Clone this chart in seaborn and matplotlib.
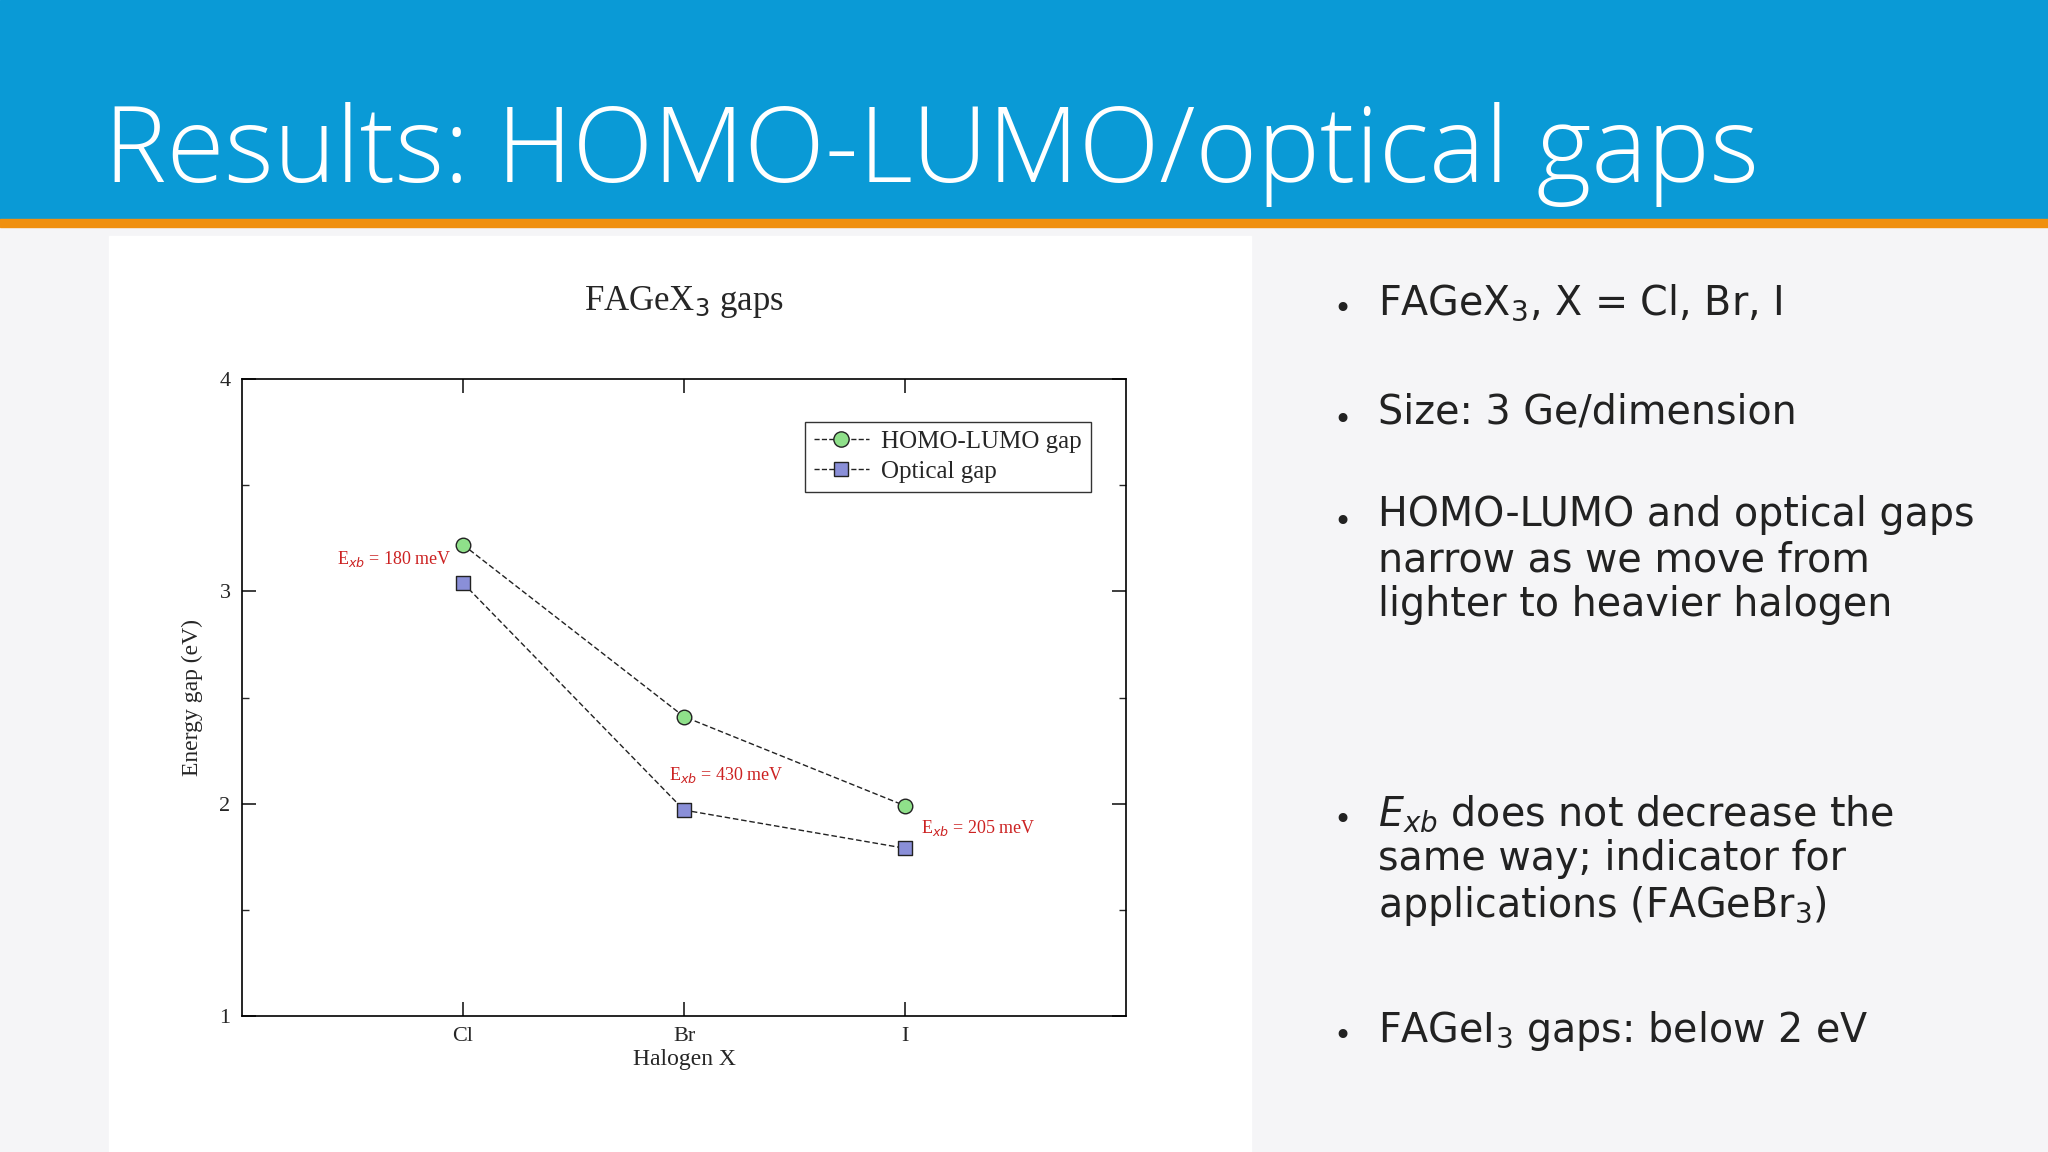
import matplotlib
matplotlib.use("Agg")
import matplotlib.pyplot as plt
import seaborn as sns
import pandas as pd
from matplotlib.patches import Rectangle
from matplotlib.lines import Line2D

halogens = ["Cl", "Br", "I"]
xpos = [1, 2, 3]
homo_lumo = [3.22, 2.41, 1.99]
optical = [3.04, 1.97, 1.79]
exb_labels = ["E$_{xb}$ = 180 meV", "E$_{xb}$ = 430 meV", "E$_{xb}$ = 205 meV"]

sns.set_theme(style="ticks")
plt.rcParams['font.family'] = ['DejaVu Sans']
plt.rcParams['mathtext.fontset'] = 'dejavusans'

fig = plt.figure(figsize=(20.48, 11.52), dpi=100)
fig.patch.set_facecolor("#f5f5f7")
fig.add_artist(Rectangle((0, 0.81), 1, 0.19, transform=fig.transFigure, color="#0a9ad6", zorder=0))
fig.add_artist(Rectangle((0, 0.803), 1, 0.007, transform=fig.transFigure, color="#f0900f", zorder=1))
fig.add_artist(Rectangle((0.053, 0.0), 0.558, 0.795, transform=fig.transFigure, color="white", zorder=0))
fig.text(0.051, 0.866, "Results: HOMO-LUMO/optical gaps", color="white", fontsize=76,
         family="Open Sans", weight="light", va="center")

ax = fig.add_axes([0.118, 0.118, 0.432, 0.553])
df = pd.DataFrame({"x": xpos * 2, "y": homo_lumo + optical,
                   "s": ["HOMO-LUMO gap"] * 3 + ["Optical gap"] * 3})
sns.lineplot(data=df, x="x", y="y", hue="s", style="s",
             palette=["#222222", "#222222"], dashes=[(4, 2), (4, 2)],
             markers=False, linewidth=1.0, ax=ax, legend=False)
ax.scatter(xpos, homo_lumo, s=110, marker="o", facecolor="#8fe08a", edgecolor="#222", zorder=3)
ax.scatter(xpos, optical, s=90, marker="s", facecolor="#8a8fd8", edgecolor="#222", zorder=3)
h1 = Line2D([], [], ls="--", color="#222", lw=1, marker="o", markersize=11,
            markerfacecolor="#8fe08a", markeredgecolor="#222")
h2 = Line2D([], [], ls="--", color="#222", lw=1, marker="s", markersize=10,
            markerfacecolor="#8a8fd8", markeredgecolor="#222")
leg = ax.legend([h1, h2], ["HOMO-LUMO gap", "Optical gap"], loc="upper right",
                bbox_to_anchor=(0.968, 0.945), fancybox=False, edgecolor="black",
                prop={"family": "Liberation Serif", "size": 18}, handlelength=2.2,
                borderpad=0.35, labelspacing=0.3, handletextpad=0.5, borderaxespad=0.3)
leg.get_frame().set_linewidth(1.0)
for (x, y, t, dx, dy) in [(1, 3.04, exb_labels[0], -0.57, 0.09),
                          (2, 1.97, exb_labels[1], -0.07, 0.14),
                          (3, 1.79, exb_labels[2], 0.07, 0.07)]:
    ax.text(x + dx, y + dy, t, color="#cc2222", fontsize=13, family="Liberation Serif")
ax.set_xlim(0, 4)
ax.set_ylim(1, 4)
ax.set_xticks(xpos)
ax.set_xticklabels(halogens)
ax.set_yticks([1, 2, 3, 4])
ax.set_yticks([1.5, 2.5, 3.5], minor=True)
ax.tick_params(which="both", direction="in", top=True, right=True, labelsize=16, length=10, pad=8)
ax.tick_params(which="minor", length=5)
for l in ax.get_xticklabels() + ax.get_yticklabels():
    l.set_family("Liberation Serif")
for s in ax.spines.values():
    s.set_linewidth(1.2)
    s.set_color("black")
ax.set_xlabel("Halogen X", family="Liberation Serif", fontsize=17, labelpad=2)
ax.set_ylabel("Energy gap (eV)", family="Liberation Serif", fontsize=17, labelpad=12)
ax.set_title("FAGeX$_3$ gaps", family="Liberation Serif", fontsize=25, pad=50)

bullets = [
    (0.748, "FAGeX$_3$, X = Cl, Br, I"),
    (0.652, "Size: 3 Ge/dimension"),
    (0.563, "HOMO-LUMO and optical gaps\nnarrow as we move from\nlighter to heavier halogen"),
    (0.304, "$E_{xb}$ does not decrease the\nsame way; indicator for\napplications (FAGeBr$_3$)"),
    (0.117, "FAGeI$_3$ gaps: below 2 eV"),
]
for y, t in bullets:
    fig.text(0.651, y - 0.004, "•", fontsize=22, va="top", color="#222")
    fig.text(0.673, y + 0.007, t, fontsize=28.5, va="top", color="#222", linespacing=1.15)

fig.savefig("out.png", dpi=100)
